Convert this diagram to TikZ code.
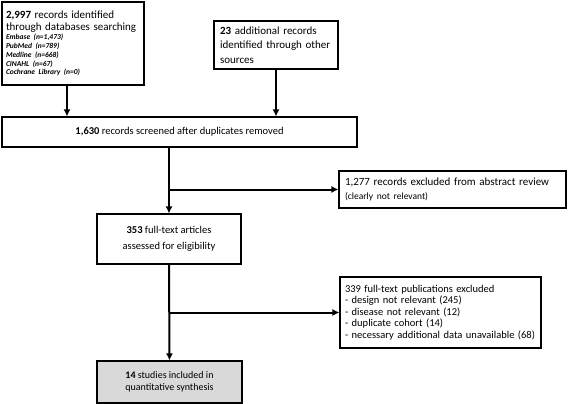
\documentclass[tikz,border=0pt]{standalone}
\usepackage{fontspec}
\setmainfont{Carlito}
\usetikzlibrary{arrows.meta}

\begin{document}
\begin{tikzpicture}[
  x=1pt, y=-1pt,
  box/.style={rectangle, draw=black, line width=1.1pt, fill=white, inner sep=0pt},
  arr/.style={line width=2pt, -{Latex[length=7pt,width=7pt]}},
  every node/.style={font=\fontsize{10.5}{13}\selectfont}
]
  \useasboundingbox (0,0) rectangle (568,404);

  \node[box, minimum width=142pt, minimum height=83pt, text width=134pt, align=left] (src1) at (73,43.5)
    {{\fontsize{11}{12.5}\selectfont \textbf{2,997} records identified\\through databases searching\par}
     {\fontsize{7.5}{8.8}\selectfont\bfseries\itshape Embase (n=1,473)\\PubMed (n=789)\\Medline (n=668)\\CINAHL (n=67)\\Cochrane Library (n=0)\par}
     \vspace{5pt}};
  \node[box, minimum width=124pt, minimum height=48pt, text width=112pt, align=left,
        font=\fontsize{11}{14.5}\selectfont] (src2) at (276,45)
    {\textbf{23} additional records identified through other sources};
  \node[box, minimum width=355pt, minimum height=30pt] (screen) at (179.5,132)
    {\textbf{1,630} records screened after duplicates removed};
  \node[box, minimum width=227pt, minimum height=37pt, text width=215pt, align=left,
        font=\fontsize{11}{13.5}\selectfont] (excl1) at (452.5,189.5)
    {1,277 records excluded from abstract review\\{\fontsize{9.5}{11}\selectfont(clearly not relevant)}};
  \node[box, minimum width=144pt, minimum height=50pt, align=center,
        font=\fontsize{10.5}{16}\selectfont] (full) at (169,239)
    {\textbf{353} full-text articles\\assessed for eligibility};
  \node[box, minimum width=201pt, minimum height=71pt, text width=191pt, align=left,
        font=\fontsize{10.5}{11.5}\selectfont] (excl2) at (440.5,312.5)
    {339 full-text publications excluded\\- design not relevant (245)\\- disease not relevant (12)\\- duplicate cohort (14)\\- necessary additional data unavailable (68)};
  \node[box, fill=black!15, minimum width=145pt, minimum height=42pt, align=center,
        font=\fontsize{10}{12.5}\selectfont] (incl) at (169.5,382)
    {\textbf{14} studies included in\\quantitative synthesis};

  \coordinate (out1) at ([xshift=-6pt]src1.south);
  \coordinate (split1) at (full.north |- excl1.west);
  \coordinate (split2) at (incl.north |- excl2.west);

  \draw[arr] (out1) -- (out1 |- screen.north);
  \draw[arr] (src2.south) -- (src2.south |- screen.north);
  \draw[arr] (full.north |- screen.south) -- (full.north);
  \draw[arr] (split1) -- (excl1.west);
  \draw[arr] (full.south) -- (incl.north);
  \draw[arr] (split2) -- (excl2.west);
\end{tikzpicture}
\end{document}
